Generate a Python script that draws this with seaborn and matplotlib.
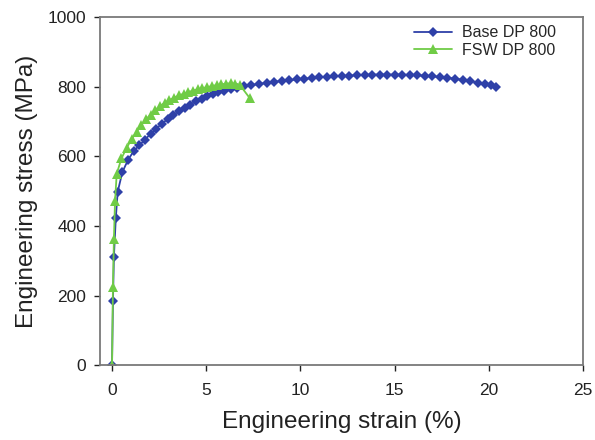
import matplotlib
matplotlib.use("Agg")
import matplotlib.pyplot as plt
import seaborn as sns
import pandas as pd

# Engineering strain (%) / stress (MPa)
base_strain = [0, 0.05, 0.1, 0.2, 0.3, 0.55, 0.85, 1.15, 1.45, 1.75, 2.05, 2.35, 2.65,
               2.95, 3.25, 3.55, 3.85, 4.15, 4.45, 4.75, 5.05, 5.35, 5.65, 5.95, 6.3,
               6.65, 7.0, 7.4, 7.8, 8.2, 8.6, 9.0, 9.4, 9.8, 10.2, 10.6, 11.0, 11.4,
               11.8, 12.2, 12.6, 13.0, 13.4, 13.8, 14.2, 14.6, 15.0, 15.4, 15.8, 16.2,
               16.6, 17.0, 17.4, 17.8, 18.2, 18.6, 19.0, 19.4, 19.8, 20.1, 20.4]
base_stress = [0, 185, 312, 422, 498, 555, 590, 615, 632, 648, 665, 680, 694,
               707, 719, 730, 740, 749, 758, 766, 773, 779, 784, 789, 793,
               797, 801, 805, 808, 811, 814, 817, 819, 821, 823, 825, 827, 829,
               830, 831, 832, 833, 834, 835, 835, 835, 835, 835, 834, 833,
               832, 830, 828, 826, 823, 820, 816, 812, 808, 804, 800]

fsw_strain = [0, 0.05, 0.1, 0.16, 0.25, 0.5, 0.78, 1.05, 1.3, 1.55, 1.8, 2.05, 2.3,
              2.55, 2.8, 3.05, 3.3, 3.55, 3.8, 4.05, 4.3, 4.55, 4.8, 5.05, 5.3, 5.55,
              5.8, 6.05, 6.3, 6.55, 6.8, 7.3]
fsw_stress = [0, 225, 362, 472, 550, 594, 625, 650, 670, 690, 706, 720, 733,
              745, 754, 762, 769, 775, 780, 785, 789, 793, 796, 799, 802, 805,
              807, 809, 810, 809, 804, 768]

labels = ["Base DP 800", "FSW DP 800"]
colors = ["#2e40a8", "#70cc46"]

df = pd.concat([
    pd.DataFrame({"strain": base_strain, "stress": base_stress, "series": labels[0]}),
    pd.DataFrame({"strain": fsw_strain, "stress": fsw_stress, "series": labels[1]}),
])

sns.set_style("white")
plt.rcParams["font.family"] = ["Liberation Sans", "DejaVu Sans"]

fig = plt.figure(figsize=(5.95, 4.4), dpi=100)
ax = fig.add_axes([0.168, 0.17, 0.812, 0.791])

sns.lineplot(data=df, x="strain", y="stress", hue="series", style="series",
             palette=dict(zip(labels, colors)), markers={labels[0]: "D", labels[1]: "^"},
             dashes=False, markersize=5.5, markeredgewidth=0, linewidth=1.3,
             errorbar=None, ax=ax)
# triangles a bit bigger than the diamonds
for line in ax.lines:
    if line.get_marker() == "^":
        line.set_markersize(6.5)

ax.set_xlim(-0.64, 25)
ax.set_ylim(0, 1000)
ax.set_xticks([0, 5, 10, 15, 20, 25])
ax.set_yticks([0, 200, 400, 600, 800, 1000])
ax.set_xlabel("Engineering strain (%)", fontsize=17.5, color="#222222", labelpad=9)
ax.set_ylabel("Engineering stress (MPa)", fontsize=17.5, color="#222222", labelpad=7)
ax.tick_params(labelsize=12.5, colors="#222222", direction="out", length=4,
               width=1, left=True, bottom=True)
ax.tick_params(axis="x", pad=9)
ax.tick_params(axis="y", pad=6)
for side in ["left", "bottom", "top", "right"]:
    ax.spines[side].set_visible(True)
    ax.spines[side].set_color("#7a7a7a")
    ax.spines[side].set_linewidth(1.3)

ax.legend(loc="upper right", frameon=False, fontsize=11.5, handlelength=2.4,
          handletextpad=0.6, labelspacing=0.15, borderaxespad=0.1,
          bbox_to_anchor=(0.96, 1.0))

fig.savefig("out.png", dpi=100)
